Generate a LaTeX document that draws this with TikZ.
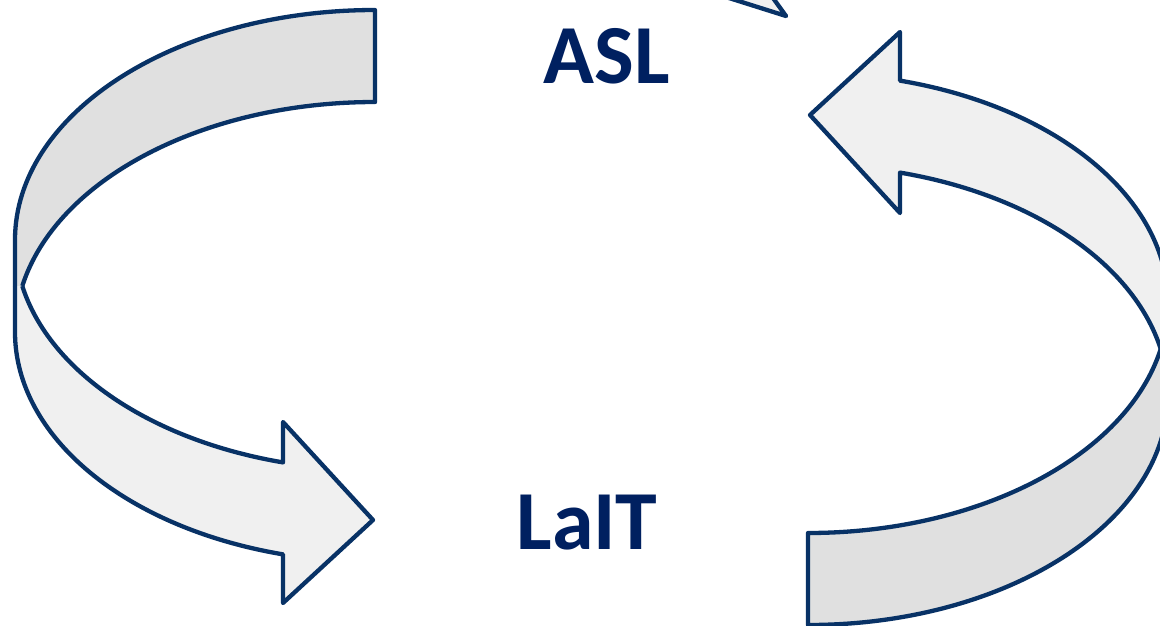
\documentclass[tikz,border=0pt]{standalone}
\usepackage{fontspec}
\setmainfont{Carlito}
\definecolor{edge}{RGB}{8,50,102}
\definecolor{txt}{RGB}{0,32,96}
\definecolor{backfill}{RGB}{224,224,224}
\definecolor{frontfill}{RGB}{240,240,240}
\newcommand{\ribbonarrow}{%
  % back (upper) band
  \fill[backfill] (375,10) arc[start angle=270, end angle=180, ell]
     -- (15,286) -- (22.3,286) arc[start angle=191.54, end angle=270, ell] -- cycle;
  \draw[outline] (22.3,286) arc[start angle=191.54, end angle=270, ell]
     -- (375,10) arc[start angle=270, end angle=180, ell] -- (15,286);
  % front (lower) band with its head
  \fill[frontfill] (15,286) -- (15,332) arc[start angle=180, end angle=104.81, ell]
     -- (283,603) -- (373,520) -- (283,422) -- (283,462.4)
     arc[start angle=104.81, end angle=168.46, ell] -- cycle;
  \draw[outline] (15,286) -- (15,332) arc[start angle=180, end angle=104.81, ell]
     -- (283,603) -- (373,520) -- (283,422) -- (283,462.4)
     arc[start angle=104.81, end angle=168.46, ell];
}
\begin{document}
\begin{tikzpicture}[x=1pt,y=-1pt,
  outline/.style={draw=edge, line width=4.3pt, line join=round},
  ell/.style={x radius=360, y radius=230},
  lbl/.style={text=txt, font=\fontsize{84}{100}\selectfont\bfseries, anchor=base, inner sep=0pt}]
\useasboundingbox (0,0) rectangle (1160,625);
\clip (0,0) rectangle (1160,625);
\fill[white] (0,0) rectangle (1160,625);
% left curved arrow
\begin{scope}
\ribbonarrow
\end{scope}
% right curved arrow (same shape turned half a turn)
\begin{scope}[rotate around={180:(591.5,317.5)}]
\ribbonarrow
\end{scope}
% tip of a third arrow, cut by the top edge
\draw[outline, fill=frontfill] (672,-20) -- (786,16) -- (760,-20) -- cycle;
\node[lbl] (asl) at (607,83) {ASL};
\node[lbl] (lait) at (587,549) {LaIT};
\end{tikzpicture}
\end{document}
